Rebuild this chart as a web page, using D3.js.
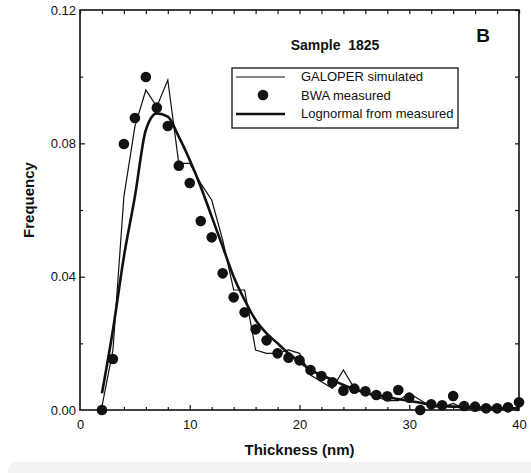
<!DOCTYPE html>
<html>
<head>
<meta charset="utf-8">
<title>Sample 1825</title>
<script src="https://cdn.jsdelivr.net/npm/d3@7"></script>
<style>
  body { margin: 0; background: #fff; }
  svg { display: block; font-family: "Liberation Sans", Arial, sans-serif; }
</style>
</head>
<body>
<div id="container"></div>
<script>
  // Thickness (nm) values
  const thickness = d3.range(2, 41);

  // BWA measured (dots)
  const measured = [0.0, 0.0153, 0.0798, 0.0876, 0.0999, 0.0907, 0.0852, 0.0733, 0.0681, 0.0567,
    0.0518, 0.041, 0.0338, 0.0293, 0.0242, 0.0209, 0.017, 0.0157, 0.0149, 0.012,
    0.0102, 0.0083, 0.0058, 0.0064, 0.0056, 0.0045, 0.0041, 0.006, 0.0037, 0.0,
    0.0017, 0.0014, 0.0042, 0.0012, 0.001, 0.0005, 0.0005, 0.0008, 0.0023];

  // GALOPER simulated (thin line)
  const simulated = [0.001, 0.018, 0.064, 0.085, 0.096, 0.091, 0.099, 0.074, 0.074, 0.068,
    0.063, 0.051, 0.036, 0.036, 0.018, 0.017, 0.017, 0.018, 0.017, 0.0105,
    0.0085, 0.0065, 0.012, 0.0065, 0.005, 0.004, 0.0028, 0.0028, 0.005, 0.003,
    0.001, 0.0008, 0.002, 0.0005, 0.0005, 0.0005, 0.0005, 0.0005, 0.0005];

  // Lognormal from measured (thick line)
  const lognormal = [0.005, 0.024, 0.046, 0.064, 0.084, 0.089, 0.088, 0.082, 0.075, 0.067,
    0.058, 0.049, 0.040, 0.033, 0.027, 0.023, 0.020, 0.017, 0.0145, 0.012,
    0.0105, 0.009, 0.0075, 0.0062, 0.0052, 0.0045, 0.0038, 0.0033, 0.0027, 0.0022,
    0.0015, 0.0012, 0.001, 0.0009, 0.0008, 0.0007, 0.0006, 0.0005, 0.0005];

  const xTicks = [0, 10, 20, 30, 40];
  const yTicks = [0, 0.04, 0.08, 0.12];
  const legendLabels = ["GALOPER simulated", "BWA measured", "Lognormal from measured"];

  const width = 531;
  const height = 473;
  const marginTop = 10;
  const marginRight = 12;
  const marginBottom = 63;
  const marginLeft = 80;

  const x = d3.scaleLinear()
      .domain([0, 40])
      .range([marginLeft, width - marginRight]);

  const y = d3.scaleLinear()
      .domain([0, 0.12])
      .range([height - marginBottom, marginTop]);

  const svg = d3.create("svg")
      .attr("width", width)
      .attr("height", height);

  // light grey strip at the bottom of the scan
  svg.append("rect")
      .attr("x", 8).attr("y", 462)
      .attr("width", width).attr("height", 20)
      .attr("rx", 8)
      .attr("fill", "#f3f3f3");

  const ink = "#111";

  // Ticks pointing inward on all four sides.
  const xMinor = d3.range(0, 41, 2).filter(d => d % 10 !== 0);
  const yMinor = [0.02, 0.06, 0.10];

  svg.append("g")
      .attr("transform", `translate(0,${y(0)})`)
      .call(d3.axisBottom(x).tickValues(xTicks).tickSize(-5).tickPadding(10).tickFormat(d3.format("d")))
      .call(g => g.selectAll(".tick").filter(d => d === 0 || d === 40).select("line").remove());
  svg.append("g")
      .attr("transform", `translate(0,${y(0)})`)
      .call(d3.axisBottom(x).tickValues(xMinor).tickSize(-3).tickFormat(""));
  svg.append("g")
      .attr("transform", `translate(0,${y(0.12)})`)
      .call(d3.axisTop(x).tickValues(xTicks.concat(xMinor)).tickSize(-4).tickFormat(""));

  svg.append("g")
      .attr("transform", `translate(${x(0)},0)`)
      .call(d3.axisLeft(y).tickValues(yTicks).tickSize(-5).tickPadding(4).tickFormat(d3.format(".2f")))
      .call(g => g.selectAll(".tick").filter(d => d === 0 || d === 0.12).select("line").remove());
  svg.append("g")
      .attr("transform", `translate(${x(0)},0)`)
      .call(d3.axisLeft(y).tickValues(yMinor).tickSize(-3).tickFormat(""));
  svg.append("g")
      .attr("transform", `translate(${x(40)},0)`)
      .call(d3.axisRight(y).tickValues(yTicks.concat(yMinor)).tickSize(-4).tickFormat(""));

  svg.selectAll(".domain").remove();
  svg.selectAll(".tick line").attr("stroke", ink).attr("stroke-width", 1.2);
  svg.selectAll(".tick text")
      .attr("fill", ink)
      .attr("font-size", 13)
      .attr("font-family", "Liberation Sans, Arial, sans-serif");

  // frame
  svg.append("rect")
      .attr("x", x(0)).attr("y", y(0.12))
      .attr("width", x(40) - x(0)).attr("height", y(0) - y(0.12))
      .attr("fill", "none")
      .attr("stroke", ink)
      .attr("stroke-width", 1.6);

  const pts = thickness.map((t, i) => ({t, m: measured[i], s: simulated[i], l: lognormal[i]}));

  svg.append("path")
      .datum(pts)
      .attr("fill", "none")
      .attr("stroke", ink)
      .attr("stroke-width", 1.2)
      .attr("d", d3.line().x(d => x(d.t)).y(d => y(d.s)));

  svg.append("path")
      .datum(pts)
      .attr("fill", "none")
      .attr("stroke", ink)
      .attr("stroke-width", 2.6)
      .attr("stroke-linejoin", "round")
      .attr("d", d3.line().curve(d3.curveMonotoneX).x(d => x(d.t)).y(d => y(d.l)));

  svg.append("g")
      .selectAll("circle")
      .data(pts)
      .join("circle")
      .attr("cx", d => x(d.t))
      .attr("cy", d => y(d.m))
      .attr("r", 5.3)
      .attr("fill", ink);

  // Legend
  const lg = svg.append("g").attr("transform", "translate(232,68)");
  lg.append("rect")
      .attr("width", 226).attr("height", 60)
      .attr("fill", "#fff").attr("stroke", ink).attr("stroke-width", 1.3);
  lg.append("line").attr("x1", 4).attr("x2", 53).attr("y1", 9).attr("y2", 9)
      .attr("stroke", ink).attr("stroke-width", 1.2);
  lg.append("circle").attr("cx", 31).attr("cy", 27).attr("r", 5.3).attr("fill", ink);
  lg.append("line").attr("x1", 4).attr("x2", 53).attr("y1", 46).attr("y2", 46)
      .attr("stroke", ink).attr("stroke-width", 2.6);
  lg.selectAll("text.lab")
      .data(legendLabels)
      .join("text")
      .attr("class", "lab")
      .attr("x", 69)
      .attr("y", (d, i) => 13 + i * 18.5)
      .attr("font-size", 13)
      .attr("fill", ink)
      .text(d => d);

  svg.append("text")
      .attr("x", 335).attr("y", 50)
      .attr("text-anchor", "middle")
      .attr("font-size", 14).attr("font-weight", "bold")
      .attr("fill", ink)
      .attr("xml:space", "preserve")
      .text("Sample  1825");

  svg.append("text")
      .attr("x", 483).attr("y", 42)
      .attr("text-anchor", "middle")
      .attr("font-size", 19).attr("font-weight", "bold")
      .attr("fill", ink)
      .text("B");

  svg.append("text")
      .attr("x", (x(0) + x(40)) / 2).attr("y", 455)
      .attr("text-anchor", "middle")
      .attr("font-size", 15).attr("font-weight", "bold")
      .attr("fill", ink)
      .text("Thickness  (nm)");

  svg.append("text")
      .attr("transform", `translate(34,${(y(0) + y(0.12)) / 2 - 10}) rotate(-90)`)
      .attr("text-anchor", "middle")
      .attr("font-size", 15).attr("font-weight", "bold")
      .attr("fill", ink)
      .text("Frequency");

  document.getElementById("container").append(svg.node());
</script>
</body>
</html>
